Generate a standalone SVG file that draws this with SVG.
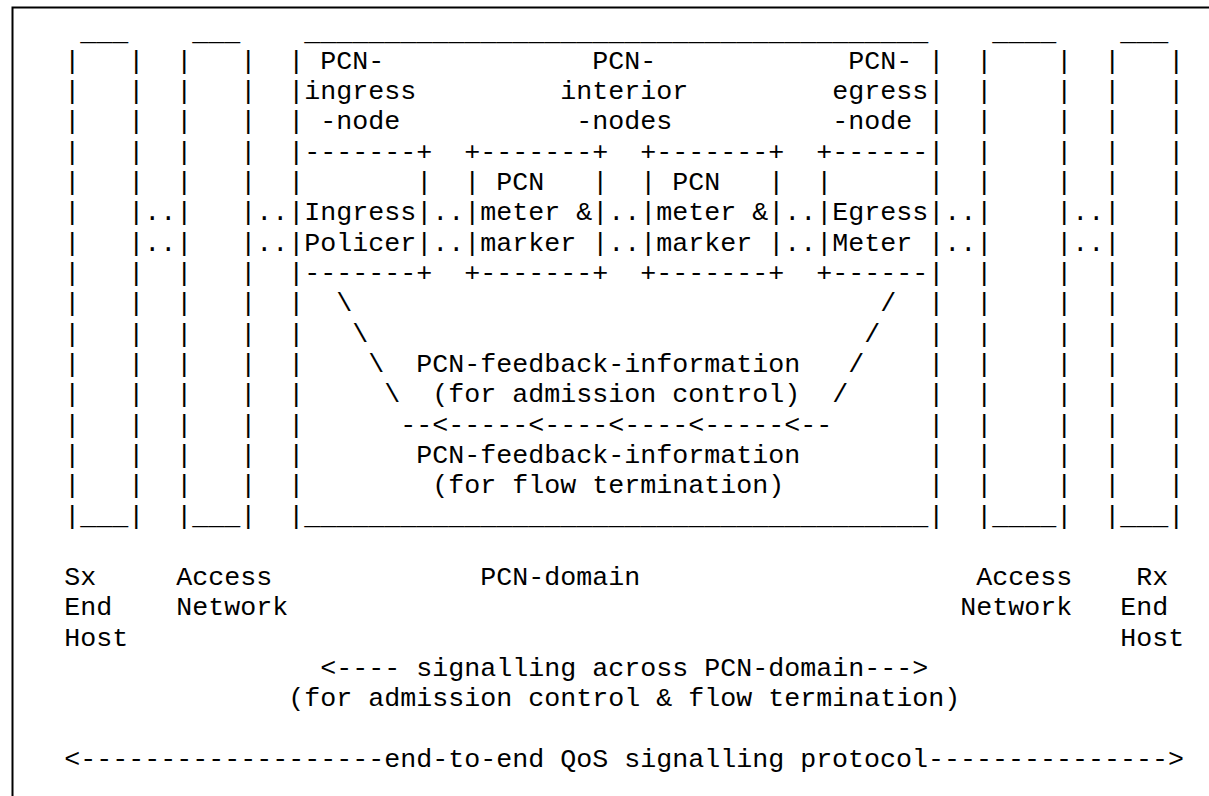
<svg xmlns="http://www.w3.org/2000/svg" xmlns:xlink="http://www.w3.org/1999/xlink" width="1209" height="796" viewBox="0 0 1209 796">
<style>
.t{font-family:"Liberation Mono","Courier New",monospace;font-size:26.67px;fill:#000;white-space:pre;}
.frame{fill:none;stroke:#000;stroke-width:2;}
</style>
<defs>
<text id="wall" class="t"><tspan x="0" y="68.7">|</tspan><tspan x="0" y="99.03">|</tspan><tspan x="0" y="129.36">|</tspan><tspan x="0" y="159.69">|</tspan><tspan x="0" y="190.02">|</tspan><tspan x="0" y="220.35">|</tspan><tspan x="0" y="250.68">|</tspan><tspan x="0" y="281.01">|</tspan><tspan x="0" y="311.34">|</tspan><tspan x="0" y="341.67">|</tspan><tspan x="0" y="372">|</tspan><tspan x="0" y="402.33">|</tspan><tspan x="0" y="432.66">|</tspan><tspan x="0" y="462.99">|</tspan><tspan x="0" y="493.32">|</tspan></text>
</defs>
<rect width="1209" height="796" fill="#fff"/>
<path class="frame" d="M12.5 800 V7.5 H1215"/>

<g id="sx-end-host">
<use xlink:href="#wall" href="#wall" x="64.3"/>
<use xlink:href="#wall" href="#wall" x="128.3"/>
<text class="t"><tspan x="80.3" y="39.5">___</tspan><tspan x="64.3" y="523.65">|___|</tspan><tspan x="64.3" y="585">Sx</tspan><tspan x="64.3" y="615.3">End</tspan><tspan x="64.3" y="645.6">Host</tspan></text>
</g>

<g id="access-network-left">
<use xlink:href="#wall" href="#wall" x="176.3"/>
<use xlink:href="#wall" href="#wall" x="240.3"/>
<text class="t"><tspan x="192.3" y="39.5">___</tspan><tspan x="176.3" y="523.65">|___|</tspan><tspan x="176.3" y="585">Access</tspan><tspan x="176.3" y="615.3">Network</tspan></text>
</g>

<g id="pcn-domain">
<use xlink:href="#wall" href="#wall" x="288.3"/>
<use xlink:href="#wall" href="#wall" x="928.3"/>
<text class="t"><tspan x="304.3" y="39.5">_______________________________________</tspan><tspan x="288.3" y="523.65">|_______________________________________|</tspan><tspan x="480.3" y="585">PCN-domain</tspan></text>

<g id="pcn-ingress-node">
<text class="t"><tspan x="320.3" y="68.7">PCN-</tspan><tspan x="304.3" y="99.03">ingress</tspan><tspan x="320.3" y="129.36">-node</tspan><tspan x="304.3" y="159.69">-------+</tspan><tspan x="416.3" y="190.02">|</tspan><tspan x="304.3" y="220.35">Ingress|</tspan><tspan x="304.3" y="250.68">Policer|</tspan><tspan x="304.3" y="281.01">-------+</tspan></text>
</g>

<g id="pcn-interior-nodes">
<text class="t"><tspan x="592.3" y="68.7">PCN-</tspan><tspan x="560.3" y="99.03">interior</tspan><tspan x="576.3" y="129.36">-nodes</tspan></text>
<g id="pcn-meter-marker-1">
<text class="t" xml:space="preserve"><tspan x="464.3" y="159.69">+-------+</tspan><tspan x="464.3" y="190.02">| PCN   |</tspan><tspan x="464.3" y="220.35">|meter &amp;|</tspan><tspan x="464.3" y="250.68">|marker |</tspan><tspan x="464.3" y="281.01">+-------+</tspan></text>
</g>
<g id="pcn-meter-marker-2">
<text class="t" xml:space="preserve"><tspan x="640.3" y="159.69">+-------+</tspan><tspan x="640.3" y="190.02">| PCN   |</tspan><tspan x="640.3" y="220.35">|meter &amp;|</tspan><tspan x="640.3" y="250.68">|marker |</tspan><tspan x="640.3" y="281.01">+-------+</tspan></text>
</g>
</g>

<g id="pcn-egress-node">
<text class="t"><tspan x="848.3" y="68.7">PCN-</tspan><tspan x="832.3" y="99.03">egress</tspan><tspan x="832.3" y="129.36">-node</tspan><tspan x="816.3" y="159.69">+------</tspan><tspan x="816.3" y="190.02">|</tspan><tspan x="816.3" y="220.35">|Egress</tspan><tspan x="816.3" y="250.68">|Meter</tspan><tspan x="816.3" y="281.01">+------</tspan></text>
</g>
</g>

<g id="access-network-right">
<use xlink:href="#wall" href="#wall" x="976.3"/>
<use xlink:href="#wall" href="#wall" x="1056.3"/>
<text class="t"><tspan x="992.3" y="39.5">____</tspan><tspan x="976.3" y="523.65">|____|</tspan><tspan x="976.3" y="585">Access</tspan><tspan x="960.3" y="615.3">Network</tspan></text>
</g>

<g id="rx-end-host">
<use xlink:href="#wall" href="#wall" x="1104.3"/>
<use xlink:href="#wall" href="#wall" x="1168.3"/>
<text class="t"><tspan x="1120.3" y="39.5">___</tspan><tspan x="1104.3" y="523.65">|___|</tspan><tspan x="1136.3" y="585">Rx</tspan><tspan x="1120.3" y="615.3">End</tspan><tspan x="1120.3" y="645.6">Host</tspan></text>
</g>

<g id="connectors">
<text class="t"><tspan x="144.3" y="220.35">..</tspan><tspan x="144.3" y="250.68">..</tspan><tspan x="256.3" y="220.35">..</tspan><tspan x="256.3" y="250.68">..</tspan><tspan x="432.3" y="220.35">..</tspan><tspan x="432.3" y="250.68">..</tspan><tspan x="608.3" y="220.35">..</tspan><tspan x="608.3" y="250.68">..</tspan><tspan x="784.3" y="220.35">..</tspan><tspan x="784.3" y="250.68">..</tspan><tspan x="944.3" y="220.35">..</tspan><tspan x="944.3" y="250.68">..</tspan><tspan x="1072.3" y="220.35">..</tspan><tspan x="1072.3" y="250.68">..</tspan></text>
<text class="t"><tspan x="336.3" y="311.34">\</tspan><tspan x="352.3" y="341.67">\</tspan><tspan x="368.3" y="372">\</tspan><tspan x="384.3" y="402.33">\</tspan><tspan x="880.3" y="311.34">/</tspan><tspan x="864.3" y="341.67">/</tspan><tspan x="848.3" y="372">/</tspan><tspan x="832.3" y="402.33">/</tspan></text>
<text class="t"><tspan x="416.3" y="372">PCN-feedback-information</tspan><tspan x="432.3" y="402.33">(for admission control)</tspan><tspan x="400.3" y="432.66">--&lt;-----&lt;----&lt;----&lt;-----&lt;--</tspan><tspan x="416.3" y="462.99">PCN-feedback-information</tspan><tspan x="432.3" y="493.32">(for flow termination)</tspan></text>
<text class="t"><tspan x="320.3" y="675.9">&lt;---- signalling across PCN-domain---&gt;</tspan><tspan x="288.3" y="706.2">(for admission control &amp; flow termination)</tspan><tspan x="64.3" y="766.8">&lt;-------------------end-to-end QoS signalling protocol---------------&gt;</tspan></text>
</g>
</svg>
